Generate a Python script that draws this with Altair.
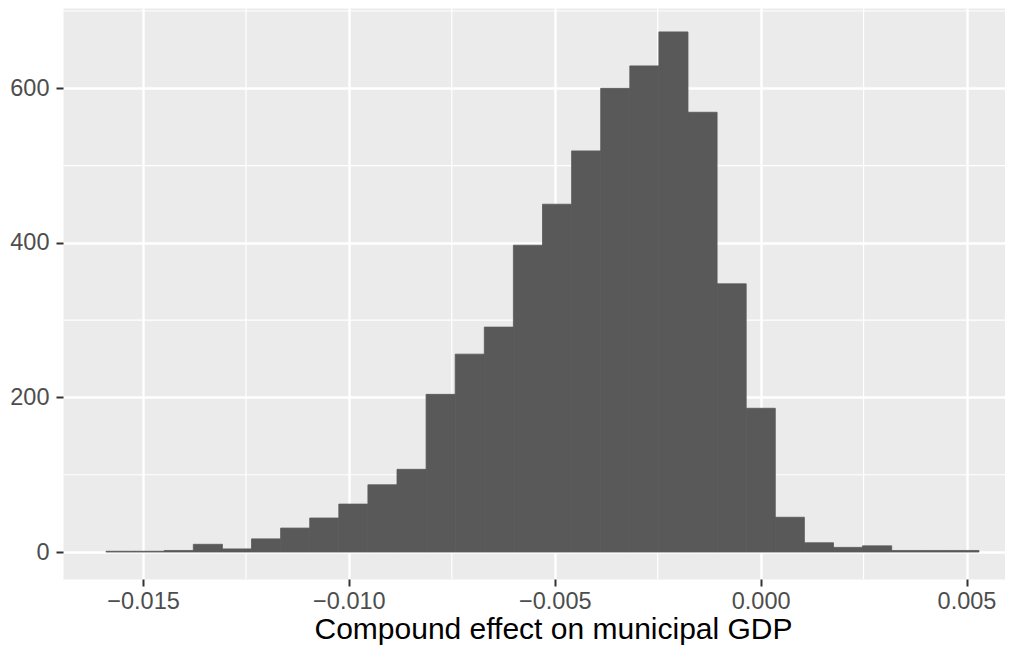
import altair as alt
import pandas as pd

# Histogram counts (30 bins)
counts = [1, 1, 2, 10, 4, 17, 31, 44, 62, 87, 107, 204, 256, 291, 397,
          450, 519, 600, 629, 673, 569, 347, 186, 45, 12, 6, 8, 2, 2, 2]
bin_start = -0.015898
bin_width = 0.0007067

x_breaks = [-0.015, -0.010, -0.005, 0.000, 0.005]
x_minor = [-0.0125, -0.0075, -0.0025, 0.0025]
y_breaks = [0, 200, 400, 600]
y_minor = [100, 300, 500, 700]

x_title = "Compound effect on municipal GDP"

df = pd.DataFrame({
    "x0": [bin_start + i * bin_width for i in range(len(counts))],
    "x1": [bin_start + (i + 1) * bin_width for i in range(len(counts))],
    "count": counts,
})

FONT = "Liberation Sans"
xs = alt.Scale(domain=[-0.016943, 0.005935], nice=False, zero=False)
ys = alt.Scale(domain=[-34.9, 703.9], nice=False, zero=False)

x_axis = alt.Axis(values=x_breaks, format=".3f", grid=True, gridColor="white",
                  gridWidth=2.4, domain=False, ticks=True, tickColor="#333333",
                  tickWidth=2, tickSize=7, labelFont=FONT, labelFontSize=23.5,
                  labelColor="#4D4D4D", labelPadding=3, labelFlush=False,
                  labelOverlap=False, title=x_title, titleFont=FONT,
                  titleFontSize=30, titleColor="black", titleFontWeight="normal",
                  titlePadding=2, titleX=490, titleAlign="center")
y_axis = alt.Axis(values=y_breaks, format="d", grid=True, gridColor="white",
                  gridWidth=2.4, domain=False, ticks=True, tickColor="#333333",
                  tickWidth=2, tickSize=7, labelFont=FONT, labelFontSize=23.5,
                  labelColor="#4D4D4D", labelPadding=7, labelOverlap=False,
                  title=None)

minor_x = alt.Chart(pd.DataFrame({"v": x_minor})).mark_rule(
    color="white", strokeWidth=1.2).encode(
    x=alt.X("v:Q", scale=xs, axis=x_axis))
minor_y = alt.Chart(pd.DataFrame({"c": y_minor})).mark_rule(
    color="white", strokeWidth=1.2).encode(
    y=alt.Y("c:Q", scale=ys, axis=y_axis))

bars = alt.Chart(df).mark_rect(color="#595959", stroke="#595959",
                               strokeWidth=0.8).encode(
    x=alt.X("x0:Q", scale=xs, axis=x_axis),
    x2="x1:Q",
    y=alt.Y("count:Q", scale=ys, axis=y_axis),
    y2=alt.datum(0),
)

chart = alt.layer(minor_x, minor_y, bars).properties(
    width=942, height=571,
    autosize=alt.AutoSizeParams(type="none"),
    padding={"left": 55, "top": 0, "right": 0, "bottom": 68},
).configure_view(fill="#EBEBEB", stroke="transparent")

chart.save("out.html", embed_options={"renderer": "svg", "actions": False})
